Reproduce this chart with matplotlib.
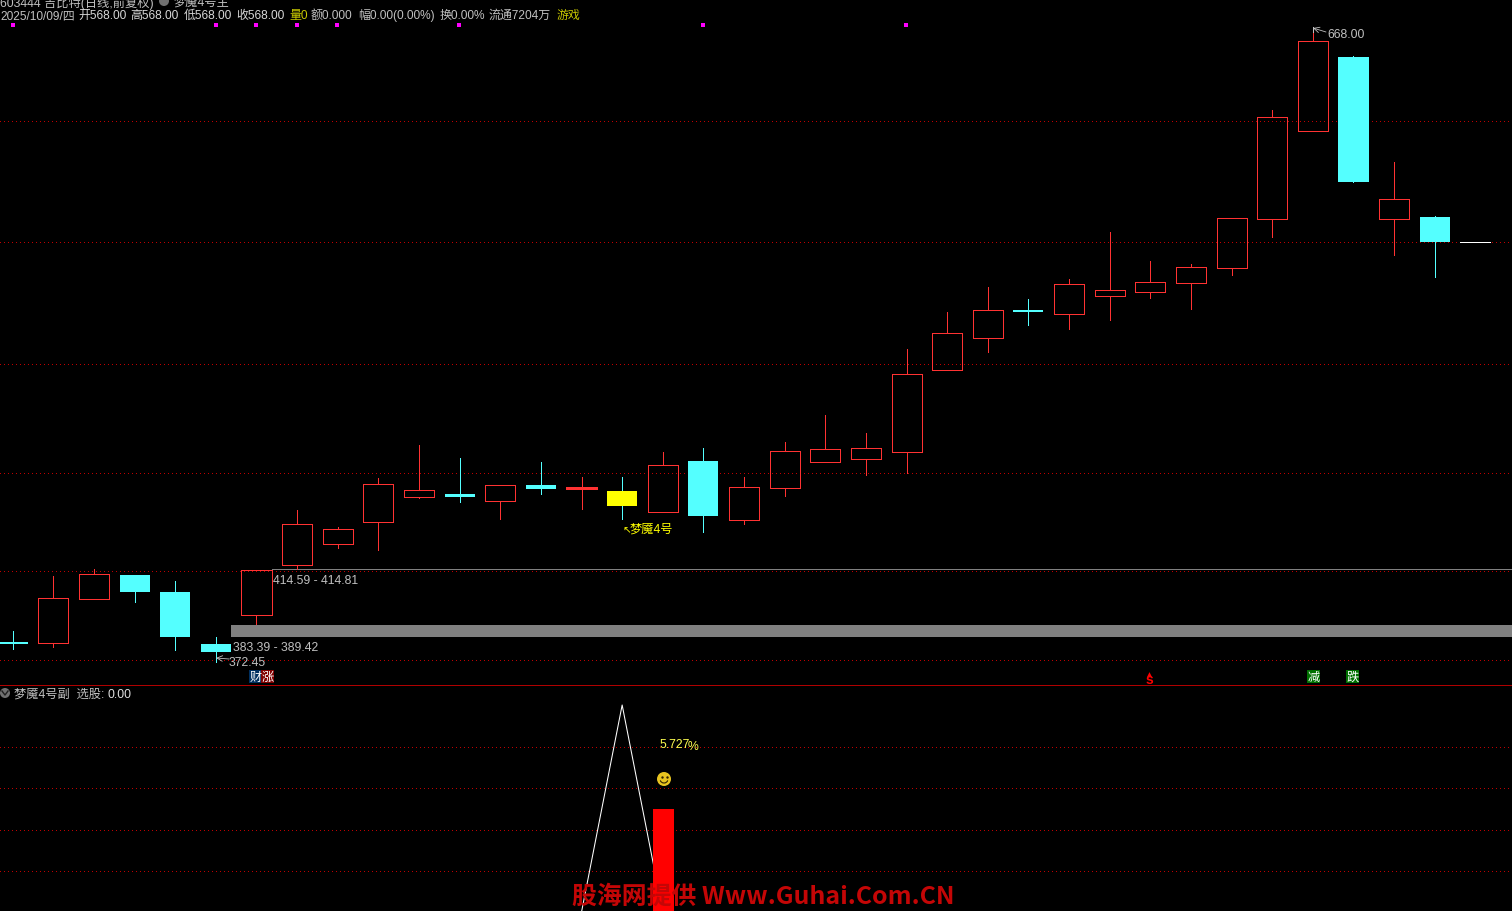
import numpy as np
import matplotlib
matplotlib.use('Agg')
import matplotlib.pyplot as plt
from matplotlib.patches import Circle, Arc, Rectangle

plt.rcParams['font.family'] = ['Liberation Sans', 'Noto Sans CJK SC', 'DejaVu Sans']

# daily candles
open_ = [367.5, 367, 389, 401, 392.5, 366.5, 381, 406, 416.5, 427.5, 440, 441.5, 438, 446, 444, 443,
         432.5, 458, 428.5, 444.5, 457.5, 459, 462.5, 503.5, 519.5, 533.5, 531.5, 540.5, 542.5, 547,
         554.5, 579, 623, 660, 579, 580, 567.5]
close = [366.5, 389.5, 401.5, 392.5, 370, 362.5, 403.5, 426.5, 424, 446.5, 443.5, 440, 446, 444, 445, 435.5,
         456, 430.5, 445, 463, 464, 464.5, 501.5, 522, 533.5, 532.5, 546.5, 543.5, 547.5, 555,
         579.5, 630, 668, 597.5, 589, 567.5, 567.5]
high = [373, 400.5, 404, 401, 398, 370, 403.5, 433.5, 425, 449.5, 466, 459.5, 446, 457.5, 450, 450,
        462.5, 464.5, 450, 467.5, 481, 472, 514, 532.5, 545, 539, 549, 572.5, 558, 556.5,
        579.5, 633.5, 674.5, 660.5, 607.5, 580.5, 567.5]
low = [364, 365, 389, 387.5, 363.5, 357.5, 376.5, 404, 414.5, 413.5, 439.5, 437.5, 429, 441.5, 434, 429,
       432.5, 422.5, 426.5, 440.5, 457.5, 451, 452, 503.5, 512.5, 526, 524, 528.5, 539.5, 534,
       551, 570, 623, 597.5, 561, 550, 567.5]
yellow_day = 15
last_day = 36
signal_days = [0, 5, 6, 7, 8, 11, 17, 22]
main_grid = [628, 567.5, 506.5, 452, 403, 358.5]

# lower panel
sub_days = [14, 15, 16]
sub_line = [0, 207, 0]
bar_day = 16
bar_value = 103
sub_grid = [165, 124, 82, 41]

header = ['2025/10/09/四', '开568.00', '高568.00', '低568.00', '收568.00', '量0', '额0.000',
          '幅0.00(0.00%)', '换0.00%', '流通7204万', '游戏']
header_x = [0, 78, 130, 184, 236, 289, 311, 358, 440, 489, 557]
header_col = ['#c0c0c0', '#d8d8d8', '#d8d8d8', '#d8d8d8', '#d8d8d8', '#c8c800', '#c0c0c0',
              '#c0c0c0', '#c0c0c0', '#c0c0c0', '#c8c800']

RED = '#ff3232'
CYAN = '#54ffff'
GRID = '#c00000'
px = 0.72
dots = (0, (1, 3))

fig = plt.figure(figsize=(15.12, 9.12), dpi=100, facecolor='black')
ax = fig.add_axes([0, 226 / 912, 1, 686 / 912], facecolor='black')
ax2 = fig.add_axes([0, 0, 1, 226 / 912], facecolor='black')
ov = fig.add_axes([0, 0, 1, 1], facecolor='none')
xlim = (-12.7 / 40.63, 1499.3 / 40.63)
for a in [ax, ax2]:
    a.set_xlim(xlim)
    a.axis('off')
ax.set_ylim(346, 689)
ax2.set_ylim(1, 227)
ov.set_xlim(0, 1512)
ov.set_ylim(912, 0)
ov.axis('off')

ax.hlines(main_grid, xlim[0], xlim[1], color=GRID, lw=px, linestyles=[dots], antialiased=False, zorder=1)
ax2.hlines(sub_grid, xlim[0], xlim[1], color=GRID, lw=px, linestyles=[dots], antialiased=False, zorder=1)

days = np.arange(len(close))
w = 0.74
for d in days:
    o, c, h, l = open_[d], close[d], high[d], low[d]
    top, bot = max(o, c), min(o, c)
    if d == last_day:
        ax.hlines(c, d - w / 2, d + w / 2, color='white', lw=px, antialiased=False, zorder=3)
    elif c >= o:
        ax.vlines(d, top, h, color=RED, lw=px, antialiased=False, zorder=3)
        ax.vlines(d, l, bot, color=RED, lw=px, antialiased=False, zorder=3)
        # nearly flat days come out as a solid stroke
        face = RED if top - bot <= 1 else 'none'
        ax.bar(d, top - bot, w, bot, facecolor=face, edgecolor=RED, lw=px, antialiased=False, zorder=3)
    else:
        body = '#ffff00' if d == yellow_day else CYAN
        ax.vlines(d, l, h, color=CYAN, lw=px, antialiased=False, zorder=3)
        ax.bar(d, top - bot, w, bot, color=body, lw=0, antialiased=False, zorder=4)

# the two level marks
ax.hlines(404, 6 + w / 2, xlim[1], color='#808080', lw=px, antialiased=False, zorder=2)
ax.fill_between([5 + w / 2, xlim[1]], 370, 376, color='#808080', lw=0, antialiased=False, zorder=2)

ov.scatter([12.5 + 40.6 * d for d in signal_days], [26] * len(signal_days), s=5, marker='s', color='#ff00ff', lw=0)

# lower panel marks
ax2.plot(sub_days, sub_line, color='white', lw=0.75, zorder=3)
ax2.bar(bar_day + 0.02, bar_value, 0.516, color='#ff0000', lw=0, antialiased=False, zorder=4)
ov.plot([0, 1512], [685.5, 685.5], color='#b00000', lw=px, antialiased=False)


def label(x, y, s, col='#c0c0c0', size=8.8, **kw):
    return ov.text(x, y + 1, s, color=col, fontsize=size, va='center', ha='left', **kw)


# header lines, first one runs off the top of the window
label(0, 2, '603444 吉比特(日线,前复权)')
ov.add_patch(Circle((164, 2), 5, color='#707070', lw=0))
label(174, 2, '梦魇4号主')
for s, x, col in zip(header, header_x, header_col):
    label(x, 15, s, col, size=8.6)

label(1327, 33.5, '668.00')
ov.annotate('', xy=(1313, 29), xytext=(1326, 33), arrowprops=dict(arrowstyle='->', color='#c0c0c0', lw=0.6, shrinkA=0, shrinkB=0))
ov.plot([1313, 1313], [28, 33], color='#c0c0c0', lw=px)
label(273, 580, '414.59 - 414.81')
label(233, 647, '383.39 - 389.42')
label(229, 662, '372.45')
ov.annotate('', xy=(216, 659), xytext=(229, 660), arrowprops=dict(arrowstyle='->', color='#c0c0c0', lw=0.6, shrinkA=0, shrinkB=0))
label(622, 529, '↖', '#ffff00', family=['DejaVu Sans'], size=7.5)
label(630, 529, '梦魇4号', '#ffff00')

# little tags above the separator
for x, s, bg in [(249, '财', '#003060'), (261, '涨', '#800000'), (1307, '减', '#007000'), (1346, '跌', '#007000')]:
    ov.add_patch(Rectangle((x, 671), 13, 13, color=bg, lw=0))
    ov.text(x + 6.5, 677.5, s, color='white', fontsize=8.8, ha='center', va='center')
ov.text(1149, 680, 's', color='#ff0000', fontsize=10, ha='center', va='center', fontweight='bold')
ov.scatter([1149], [674.5], s=12, marker='^', color='#ff0000', lw=0)

# lower panel title
ov.add_patch(Circle((5, 694), 5, color='#707070', lw=0))
ov.plot([2, 5, 8], [692, 696, 692], color='#202020', lw=1)
label(14, 694, '梦魇4号副  选股:')
label(107, 694, '0.00', '#e0e0e0')

label(660, 744, '5.727', '#ffff50')
label(688, 746, '%', '#ffff50')

# smiley
ov.add_patch(Circle((664, 780), 7, color='#e8c420', lw=0))
ov.scatter([661.5, 666.5], [778, 778], s=3, color='#302000', lw=0)
ov.add_patch(Arc((664, 780), 8, 8, theta1=20, theta2=160, color='#302000', lw=0.8))

# watermark
ov.text(572, 897, '股海网提供 Www.Guhai.Com.CN', color='#c40606', fontsize=17.9, fontweight='bold',
        family=['Noto Sans CJK SC', 'DejaVu Sans'], ha='left', va='center')

fig.savefig('out.png', dpi=100, facecolor='black')
